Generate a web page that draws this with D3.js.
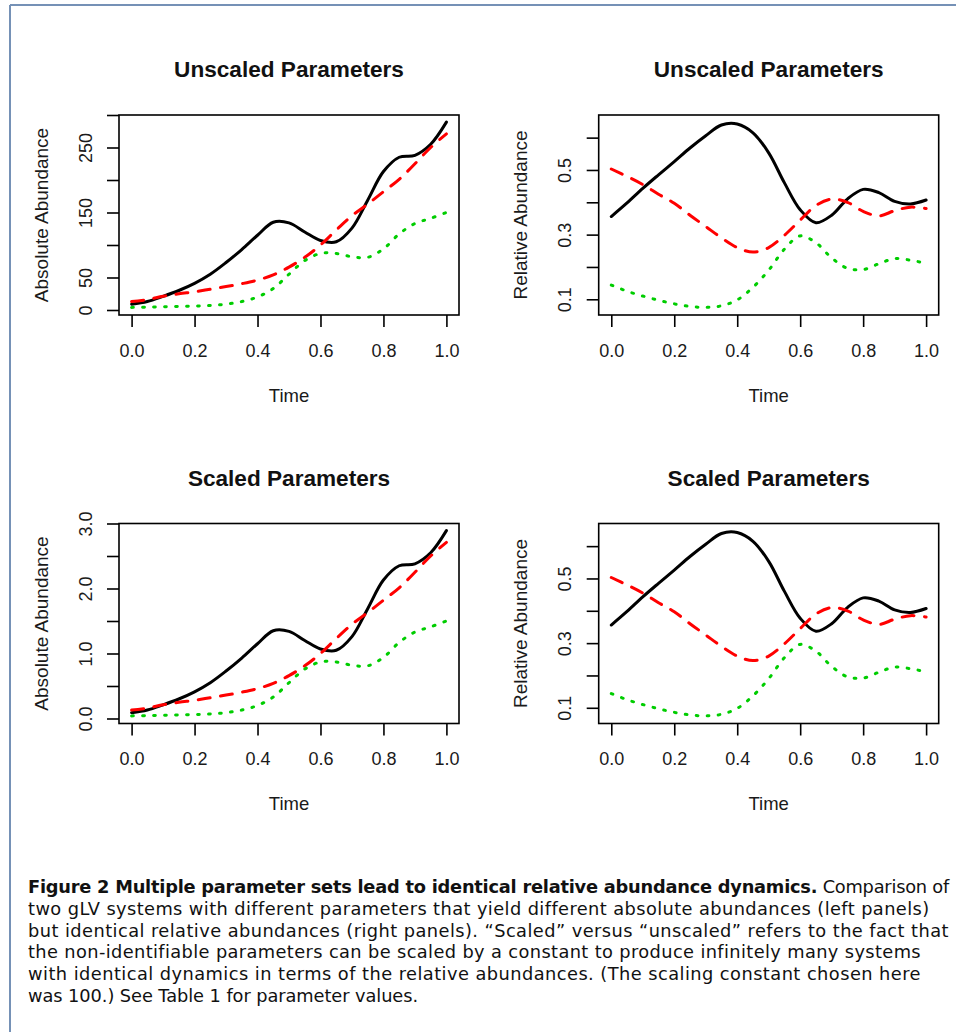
<!DOCTYPE html>
<html><head><meta charset="utf-8">
<script src="https://cdn.jsdelivr.net/npm/d3@7"></script>
<style>
html,body{margin:0;padding:0;background:#fff;}
svg{display:block;}
</style></head><body>
<svg id="chart" width="956" height="1032"></svg>
<script>
// ---------- data ----------
const time = [0,0.05,0.1,0.15,0.2,0.25,0.3,0.35,0.4,0.45,0.5,0.55,0.6,0.65,0.7,0.75,0.8,0.85,0.9,0.95,1.0];

// Unscaled absolute abundances
const absBlack = [9,13,21,30,41,55,73,93,115,135,134,120,107,105,126,169,213,235,238,255,289];
const absRed   = [13,16,21,25,28,32,36,40.5,46,54,66,81,100,123,145,163,182,201,225,250,271];
const absGreen = [4,4.5,5,5.5,6,7,9,13,20,33,55,76,87,87,82,81,94,117,133,141,150];

// Scaled absolute abundances
const scBlack = [0.09,0.13,0.21,0.30,0.41,0.55,0.73,0.93,1.15,1.35,1.34,1.20,1.07,1.05,1.26,1.69,2.13,2.35,2.38,2.55,2.89];
const scRed   = [0.13,0.16,0.21,0.25,0.28,0.32,0.36,0.405,0.46,0.54,0.66,0.81,1.00,1.23,1.45,1.63,1.82,2.01,2.25,2.50,2.71];
const scGreen = [0.04,0.045,0.05,0.055,0.06,0.07,0.09,0.13,0.20,0.33,0.55,0.76,0.87,0.87,0.82,0.81,0.94,1.17,1.33,1.41,1.50];

// Relative abundances (identical for both parameter sets)
const relBlack = [0.356,0.398,0.443,0.485,0.526,0.568,0.606,0.639,0.642,0.615,0.553,0.460,0.377,0.337,0.360,0.410,0.440,0.430,0.403,0.395,0.407];
const relRed   = [0.503,0.480,0.455,0.425,0.397,0.360,0.325,0.290,0.260,0.246,0.260,0.298,0.345,0.390,0.410,0.400,0.372,0.358,0.374,0.385,0.381];
const relGreen = [0.144,0.125,0.110,0.097,0.086,0.078,0.075,0.080,0.098,0.137,0.190,0.255,0.296,0.275,0.228,0.196,0.192,0.210,0.226,0.221,0.211];

// ticks
const xTicks = [0,0.2,0.4,0.6,0.8,1.0];
const xTickLabels = ["0.0","0.2","0.4","0.6","0.8","1.0"];
const absTicks = [0,50,100,150,200,250,300];
const absTickLabels = ["0","50","","150","","250",""];
const scTicks = [0,0.5,1,1.5,2,2.5,3];
const scTickLabels = ["0.0","","1.0","","2.0","","3.0"];
const relTicks = [0.1,0.2,0.3,0.4,0.5,0.6];
const relTickLabels = ["0.1","","0.3","","0.5",""];

const titles = ["Unscaled Parameters","Unscaled Parameters","Scaled Parameters","Scaled Parameters"];
const yLabels = ["Absolute Abundance","Relative Abundance","Absolute Abundance","Relative Abundance"];
const xLabel = "Time";

const captionBold = "Figure 2 Multiple parameter sets lead to identical relative abundance dynamics.";
const captionLines = [
  " Comparison of",
  "two gLV systems with different parameters that yield different absolute abundances (left panels)",
  "but identical relative abundances (right panels). \u201cScaled\u201d versus \u201cunscaled\u201d refers to the fact that",
  "the non-identifiable parameters can be scaled by a constant to produce infinitely many systems",
  "with identical dynamics in terms of the relative abundances. (The scaling constant chosen here",
  "was 100.) See Table 1 for parameter values."
];

// ---------- layout / style ----------
const FONT = "'Liberation Sans', Arial, Helvetica, sans-serif";
const CAPFONT = "'DejaVu Sans', sans-serif";
const W = 340, H = 200;
const styles = {
  black: {color:"#000000", dash:null},
  red:   {color:"#FF0000", dash:"12,10.5"},
  green: {color:"#00CD00", dash:"1.7,9.3"}
};

const panels = [
  {left:119,   top:115,   yDomain:[-7.7,300],     ticks:absTicks, labels:absTickLabels, series:[[absBlack,"black"],[absRed,"red"],[absGreen,"green"]]},
  {left:598.7, top:115,   yDomain:[0.0514,0.670], ticks:relTicks, labels:relTickLabels, series:[[relBlack,"black"],[relRed,"red"],[relGreen,"green"]]},
  {left:119,   top:523.5, yDomain:[-0.077,3.0],   ticks:scTicks,  labels:scTickLabels,  series:[[scBlack,"black"],[scRed,"red"],[scGreen,"green"]]},
  {left:598.7, top:523.5, yDomain:[0.0514,0.670], ticks:relTicks, labels:relTickLabels, series:[[relBlack,"black"],[relRed,"red"],[relGreen,"green"]]}
];

const svg = d3.select("#chart");

// frame
svg.append("line").attr("x1",10).attr("y1",5).attr("x2",956).attr("y2",5).attr("stroke","#7591b6").attr("stroke-width",2);
svg.append("line").attr("x1",10).attr("y1",5).attr("x2",10).attr("y2",1032).attr("stroke","#7591b6").attr("stroke-width",2);

panels.forEach((p,pi)=>{
  const x = d3.scaleLinear().domain([-0.04,1.04]).range([p.left, p.left+W]);
  const y = d3.scaleLinear().domain(p.yDomain).range([p.top+H, p.top]);
  const g = svg.append("g");

  const line = d3.line().x((d,i)=>x(time[i])).y(d=>y(d)).curve(d3.curveCatmullRom.alpha(0.5));
  p.series.forEach(([vals,key])=>{
    const st = styles[key];
    g.append("path").attr("d",line(vals)).attr("fill","none")
      .attr("stroke",st.color).attr("stroke-width",3)
      .attr("stroke-linecap","round").attr("stroke-linejoin","round")
      .attr("stroke-dasharray",st.dash);
  });

  g.append("rect").attr("x",p.left).attr("y",p.top).attr("width",W).attr("height",H)
    .attr("fill","none").attr("stroke","#000").attr("stroke-width",1.6);

  // x axis
  const xa = g.append("g").attr("transform",`translate(0,${p.top+H})`)
    .call(d3.axisBottom(x).tickValues(xTicks).tickFormat((d,i)=>xTickLabels[i]).tickSize(12).tickSizeOuter(0));
  xa.attr("font-size",null).attr("font-family",null);
  xa.select(".domain").remove();
  xa.selectAll(".tick line").attr("stroke","#000").attr("stroke-width",1.6);
  xa.selectAll(".tick text").attr("y",41.7).attr("dy",null)
    .style("font-family",FONT).style("font-size","18px").attr("fill","#1a1a1a");

  // y axis
  const ya = g.append("g").attr("transform",`translate(${p.left},0)`)
    .call(d3.axisLeft(y).tickValues(p.ticks).tickFormat((d,i)=>p.labels[i]).tickSize(12).tickSizeOuter(0));
  ya.attr("font-size",null).attr("font-family",null);
  ya.select(".domain").remove();
  ya.selectAll(".tick line").attr("stroke","#000").attr("stroke-width",1.6);
  ya.selectAll(".tick text").attr("x",0).attr("y",-27.3).attr("dy",null)
    .attr("text-anchor","middle").attr("transform","rotate(-90)")
    .style("font-family",FONT).style("font-size","18px").attr("fill","#1a1a1a");

  // titles and labels
  const cx = p.left + W/2;
  g.append("text").attr("x",cx).attr("y",p.top-37.7).attr("text-anchor","middle")
    .style("font-family",FONT).style("font-size","22.6px").style("font-weight","bold").attr("fill","#111")
    .text(titles[pi]);
  g.append("text").attr("x",cx).attr("y",p.top+H+86.7).attr("text-anchor","middle")
    .style("font-family",FONT).style("font-size","18.5px").attr("fill","#1a1a1a").text(xLabel);
  g.append("text").attr("transform",`translate(${p.left-71.5},${p.top+H/2}) rotate(-90)`)
    .attr("text-anchor","middle")
    .style("font-family",FONT).style("font-size","19px").attr("fill","#1a1a1a").text(yLabels[pi]);
});

// caption
const capTargets = [921, 901, 921, 893, 893, 390];
captionLines.forEach((ln,i)=>{
  const t = svg.append("text").attr("x",28).attr("y",893.3+i*21.7)
    .style("font-family",CAPFONT).style("font-size","17.8px").attr("fill","#111");
  let nChars = ln.length;
  if(i===0){
    t.append("tspan").style("font-weight","bold").text(captionBold);
    t.append("tspan").text(ln);
    nChars += captionBold.length;
  } else {
    t.text(ln);
  }
  const L = t.node().getComputedTextLength();
  t.attr("letter-spacing", ((capTargets[i]-L)/nChars).toFixed(3));
});
</script>
</body></html>
